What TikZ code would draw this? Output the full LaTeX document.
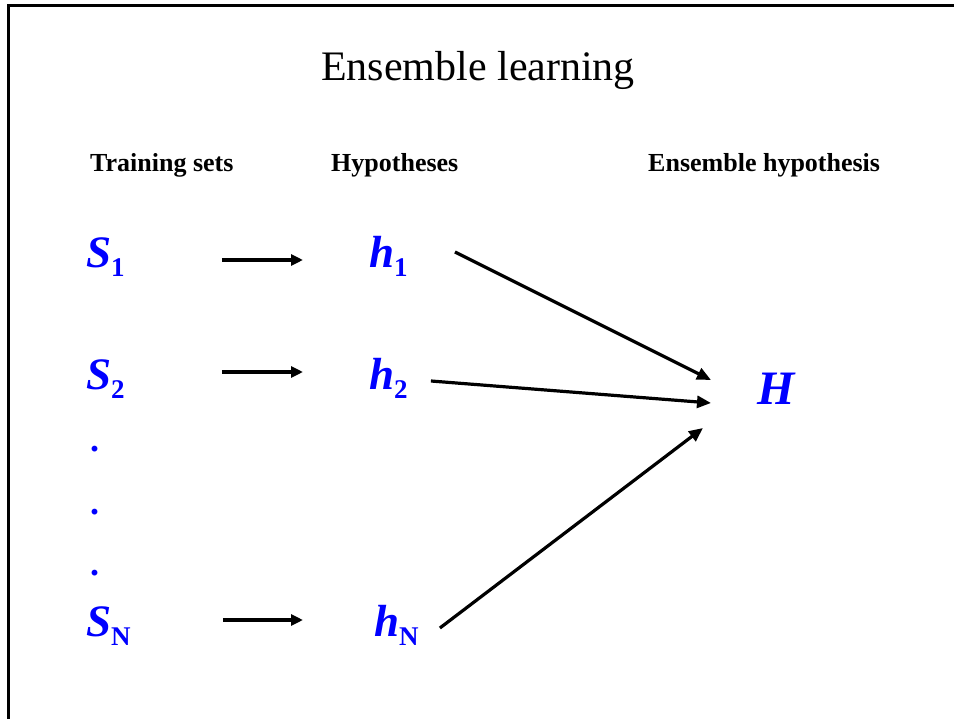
\documentclass[tikz,border=0pt]{standalone}
\usepackage{fontspec}
\setmainfont{Liberation Serif}
\usepackage{tikz}
\usetikzlibrary{arrows.meta}
\definecolor{symblue}{RGB}{0,0,255}
\newcommand{\symsub}[2]{{\fontsize{45}{50}\selectfont\bfseries\itshape #1}{\fontsize{27}{30}\selectfont\bfseries\raisebox{-9pt}{#2}}}
\tikzset{
  every node/.style={
    inner sep=0pt,
    anchor=base west
  },
  heading/.style={
    font=\fontsize{26}{30}\selectfont\bfseries
  },
  symbol/.style={
    text=symblue
  },
  shortflow/.style={
    line width=4pt,
    -{Triangle[length=12pt,width=11pt]}
  },
  longflow/.style={
    line width=3.2pt,
    -{Triangle[length=14pt,width=12pt]}
  }
}

\begin{document}
\begin{tikzpicture}[x=1pt,y=-1pt]
    \useasboundingbox (0,0) rectangle (954,719);
    \draw[line width=2.5pt] (8.5,719) -- (8.5,5.5) -- (954,5.5);
    \node[font=\fontsize{42}{50}\selectfont] (title) at (321,81) {Ensemble learning};
    % column headings
    \node[heading] (train) at (90,172) {Training sets};
    \node[heading] (hyp) at (331,172) {Hypotheses};
    \node[heading] (ens) at (648,172) {Ensemble hypothesis};
    % training sets and hypotheses
    \node[symbol] (s1) at (86,268) {\symsub{S}{1}};
    \node[symbol] (s2) at (86,390) {\symsub{S}{2}};
    \node[symbol] (sN) at (86,636) {\symsub{S}{N}};
    \node[symbol] (h1) at (369,268) {\symsub{h}{1}};
    \node[symbol] (h2) at (369,390) {\symsub{h}{2}};
    \node[symbol] (hN) at (374,636) {\symsub{h}{N}};
    \foreach \y/\name in {452/dota,514/dotb,575/dotc}
      \node[symbol,font=\fontsize{36}{40}\selectfont\bfseries] (\name) at (90,\y) {.};
    \node[symbol,font=\fontsize{48}{54}\selectfont\bfseries\itshape] (H) at (757,405) {H};
    % training set -> hypothesis
    \draw[shortflow] ([xshift=97pt,yshift=8pt]s1.base east) -- ([xshift=-66pt,yshift=8pt]h1.base west);
    \draw[shortflow] ([xshift=97pt,yshift=18pt]s2.base east) -- ([xshift=-66pt,yshift=18pt]h2.base west);
    \draw[shortflow] ([xshift=92pt,yshift=16pt]sN.base east) -- ([xshift=-71pt,yshift=16pt]hN.base west);
    % hypotheses -> ensemble
    \draw[longflow] ([xshift=47pt,yshift=16pt]h1.base east) -- ([xshift=-46pt,yshift=25pt]H.base west);
    \draw[longflow] ([xshift=23pt,yshift=9pt]h2.base east) -- ([xshift=-46pt,yshift=2pt]H.base west);
    \draw[longflow] ([xshift=21pt,yshift=8pt]hN.base east) -- ([xshift=-54pt,yshift=-23pt]H.base west);
\end{tikzpicture}
\end{document}
